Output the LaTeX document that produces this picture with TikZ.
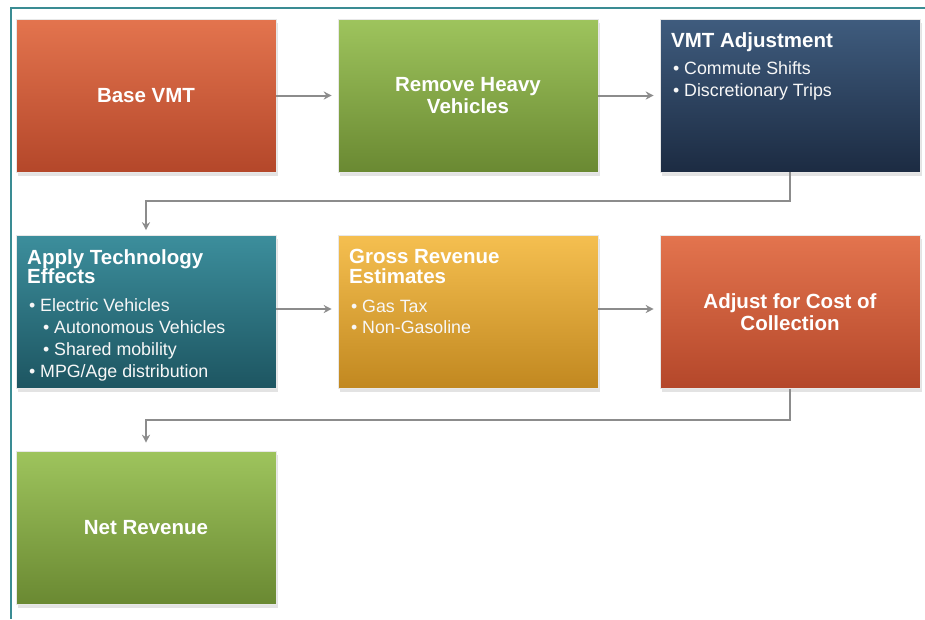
\documentclass[tikz,border=0pt]{standalone}
\usepackage{fontspec}
\setmainfont{Liberation Sans}
\usetikzlibrary{arrows.meta,shadows}

% box colours (top / bottom of the gradient)
\definecolor{orangeTop}{HTML}{E3744E}
\definecolor{orangeBot}{HTML}{B4472A}
\definecolor{greenTop}{HTML}{9EC45D}
\definecolor{greenBot}{HTML}{6A8932}
\definecolor{navyTop}{HTML}{3F5C7E}
\definecolor{navyBot}{HTML}{1C2B42}
\definecolor{tealTop}{HTML}{3C8E9C}
\definecolor{tealBot}{HTML}{1D5561}
\definecolor{goldTop}{HTML}{F5BF50}
\definecolor{goldBot}{HTML}{C18820}
\definecolor{frameTeal}{HTML}{3A8C93}
\definecolor{connGray}{HTML}{8C8C8C}

\newcommand{\titlefont}{\bfseries\fontsize{20.5}{22}\selectfont}
\newcommand{\bodyfont}{\fontsize{17.8}{22}\selectfont}
\newcommand{\bul}{\makebox[11pt][l]{\textbullet}}

\tikzset{
  flowbox/.style={rectangle, minimum width=260pt, minimum height=153pt,
    inner sep=0pt, draw=white!82!gray, line width=0.6pt,
    drop shadow={shadow xshift=1.5pt, shadow yshift=-3.5pt, opacity=0.22},
    text=white, align=center, font=\titlefont},
  orangebox/.style={flowbox, top color=orangeTop, bottom color=orangeBot},
  greenbox/.style={flowbox, top color=greenTop, bottom color=greenBot},
  navybox/.style={flowbox, top color=navyTop, bottom color=navyBot},
  tealbox/.style={flowbox, top color=tealTop, bottom color=tealBot},
  goldbox/.style={flowbox, top color=goldTop, bottom color=goldBot},
  headline/.style={anchor=base west, inner sep=0pt, text=white, font=\titlefont},
  listline/.style={anchor=base west, inner sep=0pt, text=white!94!gray, font=\bodyfont},
  conn/.style={draw=connGray, line width=2pt,
    -{Stealth[length=8pt,width=8pt]}},
  frameline/.style={draw=frameTeal, line width=1.5pt}
}

\begin{document}
\begin{tikzpicture}[x=1pt,y=-1pt]
\useasboundingbox (0,0) rectangle (925,619);
\fill[white] (0,0) rectangle (925,619);

% page frame
\draw[frameline] (10,8) -- (925,8);
\draw[frameline] (11,8) -- (11,619);

% row 1
\node[orangebox] (base)  at (146,95.5) {Base VMT};
\node[greenbox]  (heavy) at (468,95.5) {Remove Heavy\\Vehicles};
\node[navybox]   (vmt)   at (790,95.5) {};

% row 2
\node[tealbox]   (apply)  at (146,312) {};
\node[goldbox]   (gross)  at (468,312) {};
\node[orangebox] (adjust) at (790,312) {Adjust for Cost of\\Collection};

% row 3
\node[greenbox]  (net) at (146,527.5) {Net Revenue};

% VMT adjustment contents
\node[headline] (vmtT)  at (671,47) {VMT Adjustment};
\node[listline] (vmtA)  at (673,74) {\bul Commute Shifts};
\node[listline] (vmtB)  at (673,96) {\bul Discretionary Trips};

% technology effects contents
\node[headline] (appT1) at (27,264) {Apply Technology};
\node[headline] (appT2) at (27,283) {Effects};
\node[listline] (appA)  at (29,311) {\bul Electric Vehicles};
\node[listline] (appB)  at (43,333) {\bul Autonomous Vehicles};
\node[listline] (appC)  at (43,355) {\bul Shared mobility};
\node[listline] (appD)  at (29,377) {\bul MPG/Age distribution};

% gross revenue contents
\node[headline] (grsT1) at (349,263) {Gross Revenue};
\node[headline] (grsT2) at (349,283) {Estimates};
\node[listline] (grsA)  at (351,312) {\bul Gas Tax};
\node[listline] (grsB)  at (351,333) {\bul Non-Gasoline};

% connectors
\draw[conn, shorten >=6pt] (base) -- (heavy);
\draw[conn, shorten >=6pt] (heavy) -- (vmt);
\draw[conn, shorten >=5pt] (vmt.south) -- ++(0,29) -| (apply.north);
\draw[conn, shorten >=6pt] ([yshift=3pt]apply.east) -- ([yshift=3pt]gross.west);
\draw[conn, shorten >=6pt] ([yshift=3pt]gross.east) -- ([yshift=3pt]adjust.west);
\draw[conn, shorten >=8pt] (adjust.south) -- ++(0,31) -| (net.north);
\end{tikzpicture}
\end{document}
